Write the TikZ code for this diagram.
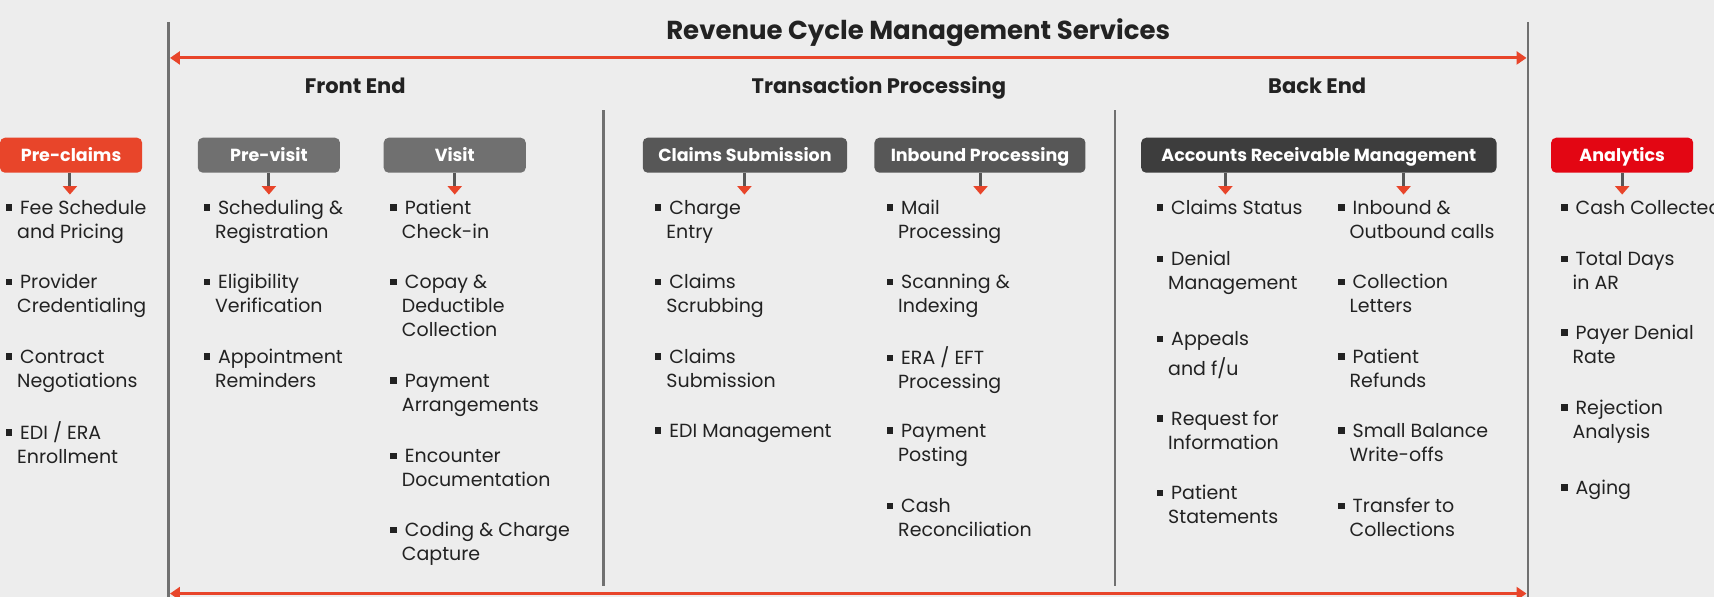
\documentclass[tikz,border=0pt]{standalone}
\usepackage{fontspec}
\setmainfont{Poppins}
\usetikzlibrary{arrows.meta}
\definecolor{bg}{HTML}{EDEDED}
\definecolor{accent}{HTML}{E8452A}
\definecolor{anred}{HTML}{E30613}
\definecolor{gA}{HTML}{707070}
\definecolor{gB}{HTML}{575757}
\definecolor{gC}{HTML}{3D3D3D}
\definecolor{txt}{HTML}{222222}
\definecolor{linegray}{HTML}{707070}
\newcommand{\bul}{\rule{0pt}{16pt}\rule[3.5pt]{6.5pt}{6.5pt}\hspace{8pt}}
\newcommand{\cont}{\hspace{11.5pt}}
\begin{document}
\begin{tikzpicture}[x=1.0931pt,y=-1.0931pt,
  box/.style={rounded corners=5pt, minimum height=35pt, inner sep=0pt, text=white,
    text height=12pt, text depth=0pt,
    font=\fontsize{17.5}{20}\selectfont\bfseries},
  item/.style={anchor=north west, inner sep=0pt, align=left, text=txt,
    font=\fontsize{19}{24}\selectfont},
  head/.style={text=txt, text height=15pt, text depth=3pt, font=\fontsize{21}{24}\selectfont\bfseries},
  title/.style={text=txt, text height=19pt, text depth=4pt, font=\fontsize{26}{30}\selectfont\bfseries},
  divider/.style={draw=linegray, line width=2.6pt},
  stem/.style={draw=gB, line width=3pt, -{Triangle[length=8.5pt,width=14pt,color=accent]}},
  span/.style={draw=accent, line width=3pt, {Triangle[length=10pt,width=13pt]}-{Triangle[length=10pt,width=13pt]}}
]
\useasboundingbox[fill=bg] (0,0) rectangle (1568,546);

% dividers
\draw[divider] (154,20) -- (154,546);
\draw[divider] (1398,20) -- (1398,546);
\draw[divider] (552,101) -- (552,536);
\draw[divider] (1020,101) -- (1020,536);

% span arrows
\coordinate (tl) at (155.5,53);
\coordinate (tr) at (1396.5,53);
\coordinate (bl) at (155.5,543);
\coordinate (br) at (1396.5,543);
\draw[span] (tl) -- (tr);
\draw[span] (bl) -- (br);

% titles
\node[title] (title) at (840,29) {Revenue Cycle Management Services};
\node[head] (fe) at (325,80) {Front End};
\node[head] (tp) at (804,80) {Transaction Processing};
\node[head] (be) at (1205,80) {Back End};

% boxes
\node[box, fill=accent, minimum width=142.1pt] (pc) at (65,142) {Pre-claims};
\node[box, fill=gA, minimum width=142.1pt] (pv) at (246,142) {Pre-visit};
\node[box, fill=gA, minimum width=142.1pt] (vi) at (416,142) {Visit};
\node[box, fill=gB, minimum width=204.4pt] (cs) at (681.5,142) {Claims Submission};
\node[box, fill=gB, minimum width=211pt] (ip) at (896.5,142) {Inbound Processing};
\node[box, fill=gC, minimum width=355.3pt] (ar) at (1206.5,142) {Accounts Receivable Management};
\node[box, fill=anred, minimum width=142.1pt] (an) at (1484,142) {Analytics};

% stems
\coordinate (pcA) at (64,178);
\coordinate (pvA) at (246,178);
\coordinate (viA) at (416,178);
\coordinate (csA) at (681,178);
\coordinate (ipA) at (897,178);
\coordinate (arA) at (1121,178);
\coordinate (arB) at (1284,178);
\coordinate (anA) at (1484,178);
\draw[stem] (pcA |- pc.south) -- (pcA);
\draw[stem] (pvA |- pv.south) -- (pvA);
\draw[stem] (viA |- vi.south) -- (viA);
\draw[stem] (csA |- cs.south) -- (csA);
\draw[stem] (ipA |- ip.south) -- (ipA);
\draw[stem] (arA |- ar.south) -- (arA);
\draw[stem] (arB |- ar.south) -- (arB);
\draw[stem] (anA |- an.south) -- (anA);

% Pre-claims
\node[item] (pc1) at (5,181.3) {\bul Fee Schedule\\\cont and Pricing};
\node[item] (pc2) at (5,249.3) {\bul Provider\\\cont Credentialing};
\node[item] (pc3) at (5,317.3) {\bul Contract\\\cont Negotiations};
\node[item] (pc4) at (5,385.3) {\bul EDI / ERA\\\cont Enrollment};

% Pre-visit
\node[item] (pv1) at (186,181.3) {\bul Scheduling \&\\\cont Registration};
\node[item] (pv2) at (186,249.3) {\bul Eligibility\\\cont Verification};
\node[item] (pv3) at (186,317.3) {\bul Appointment\\\cont Reminders};

% Visit
\node[item] (vi1) at (357,181.3) {\bul Patient\\\cont Check-in};
\node[item] (vi2) at (357,249.3) {\bul Copay \&\\\cont Deductible\\\cont Collection};
\node[item] (vi3) at (357,339.3) {\bul Payment\\\cont Arrangements};
\node[item] (vi4) at (357,408.3) {\bul Encounter\\\cont Documentation};
\node[item] (vi5) at (357,476.3) {\bul Coding \& Charge\\\cont Capture};

% Claims Submission
\node[item] (cs1) at (599,181.3) {\bul Charge\\\cont Entry};
\node[item] (cs2) at (599,249.3) {\bul Claims\\\cont Scrubbing};
\node[item] (cs3) at (599,317.3) {\bul Claims\\\cont Submission};
\node[item] (cs4) at (599,385.3) {\bul EDI Management};

% Inbound Processing
\node[item] (ip1) at (811,181.3) {\bul Mail\\\cont Processing};
\node[item] (ip2) at (811,249.3) {\bul Scanning \&\\\cont Indexing};
\node[item] (ip3) at (811,317.3) {\bul ERA / EFT\\\cont Processing};
\node[item] (ip4) at (811,385.3) {\bul Payment\\\cont Posting};
\node[item] (ip5) at (811,454.3) {\bul Cash\\\cont Reconciliation};

% AR column 1
\node[item] (ar1) at (1058,181.3) {\bul Claims Status};
\node[item] (ar2) at (1058,228.3) {\bul Denial\\\cont Management};
\node[item] (ar3) at (1058,301.3) {\bul Appeals\\[5.5pt]\cont and f/u};
\node[item] (ar4) at (1058,374.3) {\bul Request for\\\cont Information};
\node[item] (ar5) at (1058,442.3) {\bul Patient\\\cont Statements};

% AR column 2
\node[item] (ar6) at (1224,181.3) {\bul Inbound \&\\\cont Outbound calls};
\node[item] (ar7) at (1224,249.3) {\bul Collection\\\cont Letters};
\node[item] (ar8) at (1224,317.3) {\bul Patient\\\cont Refunds};
\node[item] (ar9) at (1224,385.3) {\bul Small Balance\\\cont Write-offs};
\node[item] (ar10) at (1224,454.3) {\bul Transfer to\\\cont Collections};

% Analytics
\node[item] (an1) at (1428,181.3) {\bul Cash Collected};
\node[item] (an2) at (1428,228.3) {\bul Total Days\\\cont in AR};
\node[item] (an3) at (1428,295.3) {\bul Payer Denial\\\cont Rate};
\node[item] (an4) at (1428,364.3) {\bul Rejection\\\cont Analysis};
\node[item] (an5) at (1428,437.3) {\bul Aging};
\end{tikzpicture}
\end{document}
